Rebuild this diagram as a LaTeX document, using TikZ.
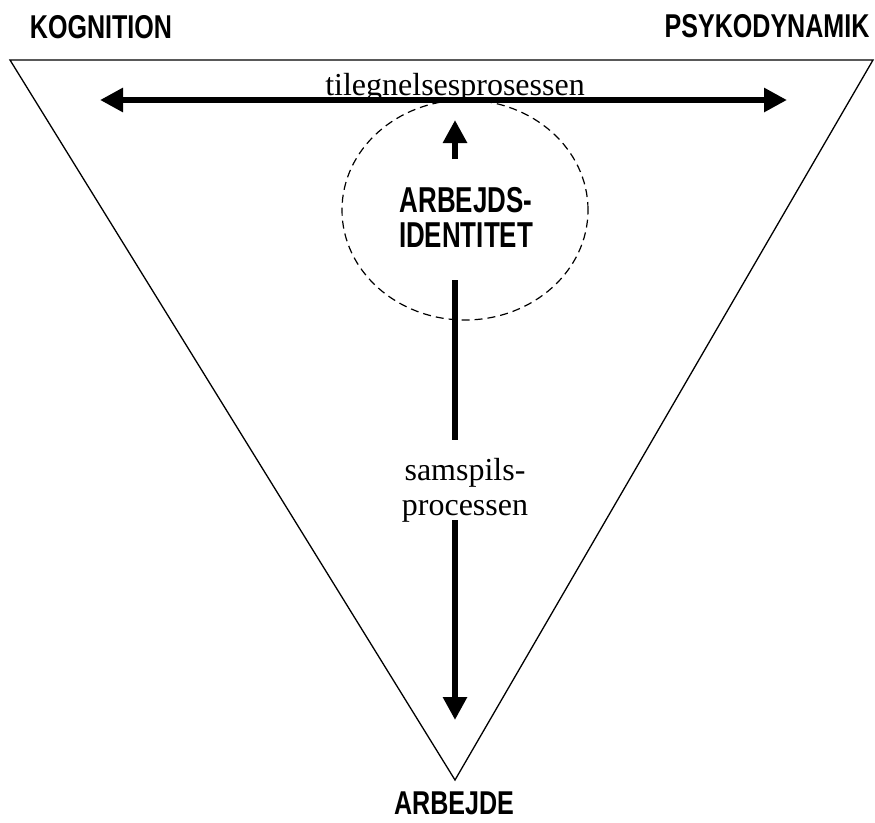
\documentclass[tikz,border=0pt]{standalone}
\usepackage{fontspec}
\setmainfont{Liberation Serif}
\newfontfamily\narrowsans[FakeStretch=0.76]{Liberation Sans}
\newfontfamily\corenarrow[FakeStretch=0.72]{Liberation Sans}
\usepackage{tikz}
\usetikzlibrary{calc, arrows, shapes, arrows.meta, positioning}
\tikzset{>={Triangle[length=23pt,width=23pt]}}
\tikzset{
corner/.style={font={\narrowsans\bfseries\fontsize{33}{34}\selectfont}, inner sep=0pt},
core/.style={font={\corenarrow\bfseries\fontsize{36}{35}\selectfont}, align=center, inner sep=0pt},
process/.style={font={\fontsize{32}{35}\selectfont}, align=center, inner sep=0pt},
fat/.style={line width=6pt}
}

\begin{document}
\begin{tikzpicture}[x=1pt,y=-1pt]
\useasboundingbox (0,0) rectangle (875,822);
% triangle
\coordinate (tl) at (10,60);
\coordinate (tr) at (873,60);
\coordinate (bot) at (455,780);
\draw[line width=1.3pt, line join=miter] (tl) -- (tr) -- (bot) -- cycle;
% corner labels
\node[corner] (kog) at (101,27) {KOGNITION};
\node[corner] (psy) at (767,26) {PSYKODYNAMIK};
\node[corner] (arb) at (454,803) {ARBEJDE};
% centre
\node[core] (ident) at (466,217) {ARBEJDS-\\IDENTITET};
\draw[line width=1.2pt, dash pattern=on 8pt off 5pt] (465,210) ellipse [x radius=123pt, y radius=110pt];
\node[process, anchor=base] (tileg) at (455,95) {tilegnelsesprosessen};
\node[process] (samsp) at (465,490) {samspils-\\processen};
% arrows
\coordinate (hl) at (100,100);
\coordinate (hr) at (787,100);
\coordinate (u1) at (455,159);
\coordinate (u2) at (455,120);
\coordinate (v1) at (455,280);
\coordinate (v2) at (455,440);
\coordinate (v3) at (455,520);
\coordinate (v4) at (455,720);
\path[fat]
(hl) edge[<->] (hr)
(u1) edge[->] (u2)
(v1) edge (v2)
(v3) edge[->] (v4)
;
\end{tikzpicture}
\end{document}
